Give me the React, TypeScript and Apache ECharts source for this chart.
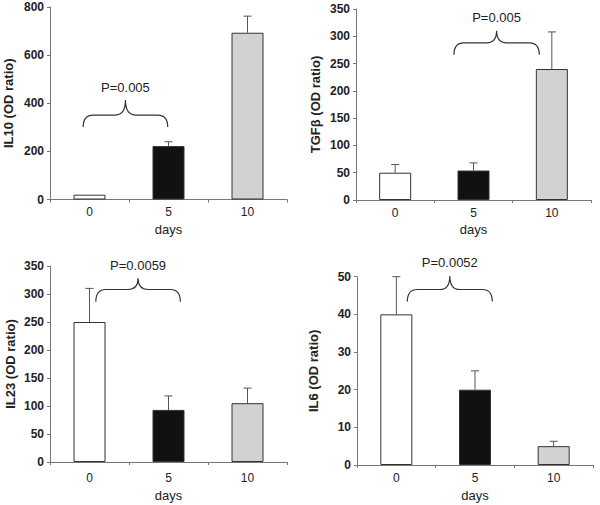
import React, { useEffect, useRef } from "react";
import * as echarts from "echarts";

const days = ["0", "5", "10"];

const il10Mean = [20, 222, 693];
const il10Err = [0, 18, 69];
const tgfMean = [50, 54, 240];
const tgfErr = [15, 14, 68];
const il23Mean = [250, 93, 105];
const il23Err = [60, 25, 27];
const il6Mean = [40, 20, 5];
const il6Err = [10, 5, 1.3];

const yTitles = ["IL10 (OD ratio)", "TGFβ (OD ratio)", "IL23 (OD ratio)", "IL6 (OD ratio)"];
const yMax = [800, 350, 350, 50];
const yStep = [200, 50, 50, 10];
const pLabels = ["P=0.005", "P=0.005", "P=0.0059", "P=0.0052"];
// brace: [from category pos, to category pos, end y, middle y, tip y]
const braces = [
  [-0.08, 0.99, 301, 351, 413],
  [0.75, 1.84, 266, 288, 310],
  [0.08, 1.15, 286, 308, 328],
  [0.14, 1.22, 43.4, 46.6, 50.2],
];

const barColors = ["#ffffff", "#111111", "#d2d2d2"];
const FONT = "'Liberation Sans', Arial, sans-serif";

const grids = [
  { left: 50, top: 7, width: 237, height: 192.5 },
  { left: 356, top: 9, width: 235, height: 191 },
  { left: 50, top: 266, width: 237, height: 196 },
  { left: 357, top: 276.7, width: 236, height: 188.3 },
];
const yNameGap = [35, 34, 33, 37];
const xLabelMargin = [6, 7, 10, 7];
const xNameGap = [23, 23, 27, 24];

export default function App() {
  const ref = useRef<HTMLDivElement>(null);
  useEffect(() => {
    if (!ref.current) return;
    const chart = echarts.init(ref.current, undefined, { renderer: "svg" });
    const means = [il10Mean, tgfMean, il23Mean, il6Mean];
    const errs = [il10Err, tgfErr, il23Err, il6Err];

    const xAxis: any[] = [];
    const yAxis: any[] = [];
    const series: any[] = [];
    for (let i = 0; i < 4; i++) {
      xAxis.push({
        type: "category",
        gridIndex: i,
        data: days,
        axisLine: { lineStyle: { color: "#777", width: 1 } },
        axisTick: { show: true, length: 3, lineStyle: { color: "#777" } },
        axisLabel: { fontSize: 12, color: "#222", margin: xLabelMargin[i], fontFamily: FONT },
        name: "days",
        nameLocation: "middle",
        nameGap: xNameGap[i],
        nameTextStyle: { fontSize: 13, color: "#222", fontFamily: FONT },
      });
      yAxis.push({
        type: "value",
        gridIndex: i,
        min: 0,
        max: yMax[i],
        interval: yStep[i],
        splitLine: { show: false },
        axisLine: { show: true, lineStyle: { color: "#777", width: 1 } },
        axisTick: { show: true, length: 3, lineStyle: { color: "#777" } },
        axisLabel: { fontSize: 12, fontWeight: "bold", color: "#222", margin: 6, fontFamily: FONT },
        name: yTitles[i],
        nameLocation: "middle",
        nameRotate: 90,
        nameGap: yNameGap[i],
        nameTextStyle: { fontSize: 13, fontWeight: "bold", color: "#222", fontFamily: FONT },
      });
      series.push({
        type: "bar",
        xAxisIndex: i,
        yAxisIndex: i,
        barWidth: 32,
        data: means[i].map((v, k) => ({
          value: v,
          itemStyle: { color: barColors[k], borderColor: "#333", borderWidth: 1 },
        })),
      });
      series.push({
        type: "custom",
        xAxisIndex: i,
        yAxisIndex: i,
        z: 3,
        data: means[i].map((v, k) => [k, v, errs[i][k]]),
        encode: { x: 0, y: 1 },
        renderItem: (params: any, api: any) => {
          const k = api.value(0);
          const v = api.value(1);
          const e = api.value(2);
          if (!e) return { type: "group", children: [] };
          const p0 = api.coord([k, v]);
          const p1 = api.coord([k, v + e]);
          const st = { stroke: "#555", lineWidth: 1 };
          return {
            type: "group",
            children: [
              { type: "line", shape: { x1: p0[0], y1: p0[1], x2: p1[0], y2: p1[1] }, style: st },
              { type: "line", shape: { x1: p1[0] - 4, y1: p1[1], x2: p1[0] + 4, y2: p1[1] }, style: st },
            ],
          };
        },
      });
      const b = braces[i];
      const label = pLabels[i];
      series.push({
        type: "custom",
        xAxisIndex: i,
        yAxisIndex: i,
        z: 4,
        data: [[0, 0]],
        renderItem: (params: any, api: any) => {
          const band = api.size([1, 0])[0];
          const base = api.coord([0, b[2]]);
          const x0 = base[0] + b[0] * band;
          const x1 = base[0] + b[1] * band;
          const xm = (x0 + x1) / 2;
          const yE = base[1];
          const yM = api.coord([0, b[3]])[1];
          const yT = api.coord([0, b[4]])[1];
          const r = 10;
          const d =
            `M${x0},${yE} Q${x0},${yM} ${x0 + r},${yM} L${xm - r},${yM} Q${xm},${yM} ${xm},${yT} ` +
            `Q${xm},${yM} ${xm + r},${yM} L${x1 - r},${yM} Q${x1},${yM} ${x1},${yE}`;
          return {
            type: "group",
            children: [
              { type: "path", shape: { pathData: d }, style: { stroke: "#333", lineWidth: 1.2, fill: "none" } },
              {
                type: "text",
                style: {
                  text: label,
                  x: xm,
                  y: yT - 13,
                  align: "center",
                  verticalAlign: "middle",
                  fontSize: 13,
                  fontFamily: FONT,
                  fill: "#222",
                },
              },
            ],
          };
        },
      });
    }

    chart.setOption({
      animation: false,
      backgroundColor: "#ffffff",
      grid: grids,
      xAxis,
      yAxis,
      series,
    });
    return () => chart.dispose();
  }, []);
  return (
    <div
      ref={ref}
      style={{ position: "absolute", left: 0, top: 0, width: 600, height: 505 }}
    />
  );
}
